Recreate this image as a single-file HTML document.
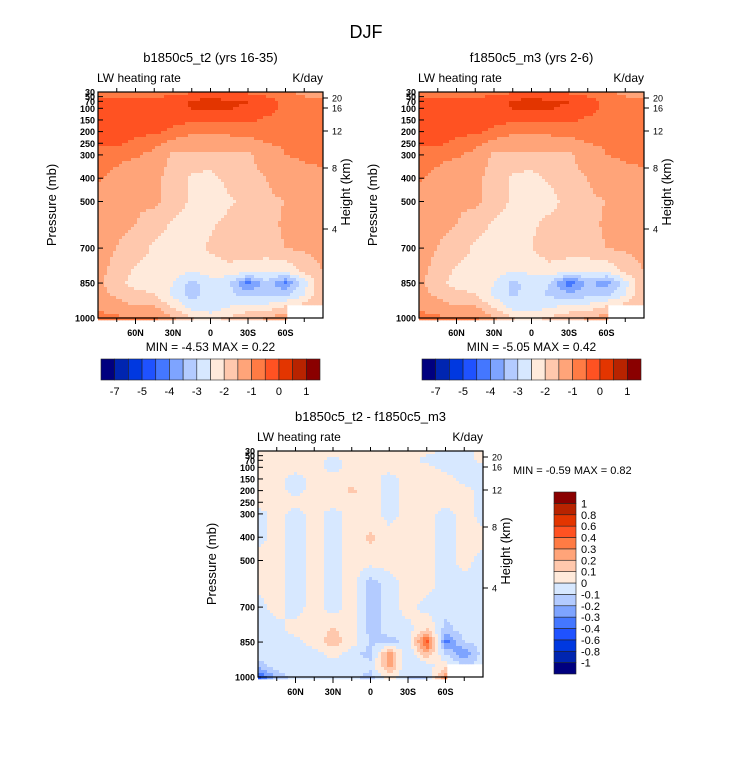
<!DOCTYPE html>
<html><head><meta charset="utf-8"><style>
body{margin:0;background:#fff;}
svg{display:block;font-family:"Liberation Sans",sans-serif;}
</style></head><body>
<svg id="s" width="733" height="772" xmlns="http://www.w3.org/2000/svg">
<text x="366" y="38" font-size="18" text-anchor="middle">DJF</text>
</svg>
<script>
const lats=[90,75,60,45,30,15,0,-15,-30,-45,-60,-75,-90];
const plevs=[30,70,100,150,200,250,300,400,500,600,700,800,850,900,950,1000];
const topLevels=[-7,-6,-5,-4,-3.5,-3,-2.5,-2,-1.5,-1,-0.5,-0.25,0,0.5,1];
const topLabels=[-7,-5,-4,-3,-2,-1,0,1];
const diffLevels=[-1,-0.8,-0.6,-0.4,-0.3,-0.2,-0.1,0,0.1,0.2,0.3,0.4,0.6,0.8,1];
const diffLabels=["-1","-0.8","-0.6","-0.4","-0.3","-0.2","-0.1","0","0.1","0.2","0.3","0.4","0.6","0.8","1"];
const colors=["#00007f","#0025b0","#0038e0","#1f52ff","#4477ff","#7ea4ff","#b3cbff","#d7e8ff","#ffeadb","#ffc8ad","#ffa479","#ff7b44","#ff5222","#e33500","#b82300","#8a0000"];
const fieldA=[
[-0.4,-0.4,-0.4,-0.35,-0.3,-0.3,-0.3,-0.3,-0.3,-0.35,-0.4,-0.6,-0.7],
[-0.2,-0.2,-0.2,-0.2,-0.15,0.05,0.1,0.05,0.02,-0.15,-0.3,-0.4,-0.45],
[-0.15,-0.15,-0.15,-0.15,-0.15,0.02,0.05,0.02,-0.05,-0.15,-0.3,-0.35,-0.4],
[-0.15,-0.15,-0.15,-0.15,-0.2,-0.2,-0.2,-0.2,-0.2,-0.3,-0.35,-0.35,-0.4],
[-0.15,-0.15,-0.2,-0.2,-0.3,-0.4,-0.4,-0.4,-0.4,-0.4,-0.4,-0.4,-0.4],
[-0.2,-0.2,-0.3,-0.4,-0.6,-0.8,-0.8,-0.7,-0.6,-0.5,-0.45,-0.4,-0.4],
[-0.35,-0.4,-0.45,-0.6,-1.1,-1.1,-1.1,-1.1,-1.1,-0.7,-0.5,-0.45,-0.4],
[-0.45,-0.6,-0.8,-0.9,-1.2,-1.6,-1.7,-1.3,-1.2,-1.0,-0.7,-0.6,-0.6],
[-0.7,-0.8,-0.9,-0.9,-1.2,-1.6,-1.9,-1.6,-1.3,-1.1,-1.0,-0.8,-0.8],
[-0.8,-0.9,-1.0,-1.3,-1.6,-1.7,-1.6,-1.3,-1.2,-1.2,-0.9,-0.8,-0.8],
[-0.8,-1.0,-1.2,-1.6,-1.6,-1.7,-1.4,-1.2,-1.2,-1.2,-1.0,-0.9,-0.8],
[-0.8,-1.2,-1.6,-1.7,-1.8,-2.0,-1.8,-1.7,-1.8,-1.9,-1.9,-1.4,-1.0],
[-0.9,-1.3,-1.7,-1.8,-2.0,-2.7,-2.2,-2.4,-3.7,-2.6,-3.6,-2.2,-1.0],
[-0.8,-1.1,-1.3,-1.5,-2.1,-2.7,-2.3,-2.4,-2.7,-2.7,-2.6,-2.0,-1.0],
[-0.6,-0.8,-1.0,-1.0,-1.6,-2.2,-2.4,-2.0,-1.8,-1.8,-1.5,-1.3,-1.0],
[-0.3,-0.4,-0.5,-0.4,-0.9,-1.5,-1.7,-1.4,-1.2,-1.0,-0.6,null,null]];
const fieldB=[
[-0.4,-0.4,-0.4,-0.35,-0.3,-0.3,-0.3,-0.3,-0.3,-0.35,-0.4,-0.6,-0.7],
[-0.2,-0.2,-0.2,-0.2,-0.15,0.05,0.1,0.05,0.02,-0.15,-0.3,-0.4,-0.45],
[-0.15,-0.15,-0.15,-0.15,-0.15,0.02,0.05,0.02,-0.05,-0.15,-0.3,-0.35,-0.4],
[-0.15,-0.15,-0.15,-0.15,-0.2,-0.2,-0.2,-0.2,-0.2,-0.3,-0.35,-0.35,-0.4],
[-0.15,-0.15,-0.2,-0.2,-0.3,-0.4,-0.4,-0.4,-0.4,-0.4,-0.4,-0.4,-0.4],
[-0.2,-0.2,-0.3,-0.4,-0.6,-0.8,-0.8,-0.7,-0.6,-0.5,-0.45,-0.4,-0.4],
[-0.35,-0.4,-0.45,-0.6,-1.1,-1.1,-1.1,-1.1,-1.1,-0.7,-0.5,-0.45,-0.4],
[-0.45,-0.6,-0.8,-0.9,-1.2,-1.6,-1.7,-1.4,-1.2,-1.0,-0.7,-0.6,-0.6],
[-0.7,-0.8,-0.9,-0.9,-1.2,-1.6,-1.9,-1.7,-1.3,-1.1,-1.0,-0.8,-0.8],
[-0.8,-0.9,-1.0,-1.3,-1.6,-1.7,-1.6,-1.3,-1.2,-1.2,-0.9,-0.8,-0.8],
[-0.8,-1.0,-1.2,-1.6,-1.6,-1.7,-1.5,-1.2,-1.2,-1.2,-1.0,-0.9,-0.8],
[-0.8,-1.2,-1.6,-1.7,-1.8,-2.0,-1.9,-1.7,-1.9,-1.9,-1.9,-1.4,-1.0],
[-0.9,-1.3,-1.7,-1.8,-2.0,-2.7,-2.2,-2.5,-3.9,-2.9,-3.3,-2.2,-1.0],
[-0.8,-1.1,-1.3,-1.5,-2.1,-2.6,-2.3,-2.6,-2.8,-2.7,-2.6,-2.0,-1.0],
[-0.6,-0.8,-1.0,-1.0,-1.6,-2.2,-2.3,-2.1,-1.8,-1.8,-1.5,-1.3,-1.0],
[-0.3,-0.4,-0.5,-0.4,-0.9,-1.5,-1.7,-1.4,-1.2,-1.0,-0.7,null,null]];
const fieldD=[
[0.05,0.05,0.05,0.05,0.05,0.05,0.05,0.05,0.05,0.05,-0.05,-0.05,0.05],
[0.05,0.05,0.05,0.05,-0.05,0.05,0.05,0.05,0.05,-0.05,-0.05,-0.05,0.05],
[0.05,0.05,0.05,0.05,-0.05,0.05,0.05,0.05,0.05,0.05,-0.05,-0.05,-0.05],
[0.05,0.05,-0.05,0.05,0.05,0.05,0.05,-0.05,0.05,0.05,0.05,-0.05,-0.05],
[0.05,0.05,-0.05,0.05,0.05,0.12,0.05,-0.05,0.05,0.05,0.05,0.05,-0.05],
[0.05,0.05,0.05,0.05,0.05,0.05,0.05,-0.05,0.05,0.05,0.05,0.05,-0.05],
[-0.05,0.05,-0.05,0.05,-0.05,0.05,0.05,-0.05,0.05,0.05,-0.05,0.05,-0.05],
[-0.05,0.05,-0.05,0.05,-0.05,0.05,0.12,0.05,0.05,0.05,-0.05,0.05,0.05],
[0.05,0.05,-0.05,0.05,-0.05,0.05,0.05,0.05,0.05,0.05,-0.05,0.05,-0.05],
[0.05,0.05,-0.05,0.05,-0.05,0.05,-0.15,-0.05,0.05,0.05,-0.05,-0.05,-0.05],
[-0.05,0.05,-0.05,0.05,-0.05,0.05,-0.15,-0.05,0.05,-0.05,-0.05,-0.05,-0.05],
[-0.05,-0.05,0.05,0.05,0.12,0.05,-0.15,-0.05,-0.05,0.12,-0.15,-0.05,-0.05],
[-0.05,-0.05,-0.05,0.05,0.15,0.05,-0.1,-0.15,-0.05,0.45,-0.35,-0.1,-0.05],
[-0.05,-0.05,-0.05,-0.05,0.05,-0.05,-0.15,0.25,-0.1,0.2,-0.1,-0.3,-0.05],
[-0.15,-0.05,-0.05,-0.05,-0.05,-0.05,-0.05,0.25,-0.1,-0.05,0.05,-0.1,-0.05],
[-0.45,-0.15,-0.05,-0.05,-0.05,-0.05,-0.15,0.05,-0.1,-0.1,0.3,null,null]];
const pTicks=[30,50,70,100,150,200,250,300,400,500,700,850,1000];
const hTicks=[[20,98],[16,108],[12,131],[8,168],[4,229]];
const latTicks=[[60,"60N"],[30,"30N"],[0,"0"],[-30,"30S"],[-60,"60S"]];

const NS="http://www.w3.org/2000/svg";
const svg=document.getElementById('s');
function mk(tag,attrs,parent,text){const e=document.createElementNS(NS,tag);for(const k in attrs)e.setAttribute(k,attrs[k]);if(text!==undefined)e.textContent=text;(parent||svg).appendChild(e);return e;}
function colorFor(v,levels){let i=0;while(i<levels.length&&v>=levels[i])i++;return colors[i];}
function sample(field,lat,p){
  let j=0;while(j<lats.length-2&&lat<lats[j+1])j++;
  let i=0;while(i<plevs.length-2&&p>plevs[i+1])i++;
  const tx=(lats[j]-lat)/(lats[j]-lats[j+1]);const ty=(p-plevs[i])/(plevs[i+1]-plevs[i]);
  const a=field[i][j],b=field[i][j+1],c=field[i+1][j],d=field[i+1][j+1];
  if(a===null||b===null||c===null||d===null)return null;
  return a*(1-tx)*(1-ty)+b*tx*(1-ty)+c*(1-tx)*ty+d*tx*ty;
}
function panel(name,ox,oy,field,levels,title,minmax){
  const W=225,H=226;
  const xs=lat=>ox+(90-lat)/180*W;
  const ys=p=>oy+(p-30)/970*H;
  const g=mk('g',{});
  const cg=mk('g',{},g);
  
  
  const st=3;
  for(let px=0;px<W;px+=st){for(let py=0;py<H;py+=st){
    const lat=90-(px+st/2)/W*180;const p=30+(py+st/2)/H*970;
    const v=sample(field,lat,p);if(v===null)continue;
    const r=mk('rect',{x:ox+px,y:oy+py,width:st+0.3,height:st+0.3,fill:colorFor(v,levels)},cg);
    
    
  }}
  mk('rect',{x:ox,y:oy,width:W,height:H,fill:'none',stroke:'#000','stroke-width':1.2,},g);
  pTicks.forEach(p=>{const y=ys(p);mk('line',{x1:ox,x2:ox+5,y1:y,y2:y,stroke:'#000'},g);
    const t=mk('text',{x:ox-3,y:y+3.5,'font-size':9,'font-weight':'bold','text-anchor':'end'},g,p);
    });
  hTicks.forEach(h=>{const y=oy+(h[1]-92);mk('line',{x1:ox+W,x2:ox+W+5,y1:y,y2:y,stroke:'#000'},g);
    const t=mk('text',{x:ox+W+9,y:y+3.5,'font-size':9},g,h[0]);
    });
  for(let l=75;l>=-75;l-=15){const x=xs(l);mk('line',{x1:x,x2:x,y1:oy+H,y2:oy+H+4,stroke:'#000'},g);mk('line',{x1:x,x2:x,y1:oy,y2:oy-4,stroke:'#000'},g);}
  latTicks.forEach(t=>{const x=xs(t[0]);mk('line',{x1:x,x2:x,y1:oy+H,y2:oy+H+6,stroke:'#000'},g);
    const e=mk('text',{x:x,y:oy+H+18,'font-size':9,'font-weight':'bold','text-anchor':'middle'},g,t[1]);
    });
  const a=mk('text',{x:ox-1,y:oy-10,'font-size':12},g,'LW heating rate');
  const b=mk('text',{x:ox+W,y:oy-10,'font-size':12,'text-anchor':'end'},g,'K/day');
  const c=mk('text',{x:ox+W/2,y:oy-30,'font-size':13,'text-anchor':'middle'},g,title);
  const d=mk('text',{transform:`translate(${ox-42},${oy+H/2}) rotate(-90)`,'font-size':13,'text-anchor':'middle'},g,'Pressure (mb)');
  const e=mk('text',{transform:`translate(${ox+W+27},${oy+100}) rotate(-90)`,'font-size':13,'text-anchor':'middle'},g,'Height (km)');
  if(minmax){const m=mk('text',{x:ox+W/2,y:oy+H+33,'font-size':12,'text-anchor':'middle','xml:space':'preserve'},g,minmax);}
  return g;
}
function hbar(name,x0,y0,labels){
  const g=mk('g',{});
  const bw=219/16;
  colors.forEach((c,i)=>{const r=mk('rect',{x:x0+i*bw,y:y0,width:bw,height:21,fill:c,stroke:'#222','stroke-width':0.6},g);
    });
  labels.forEach((l,k)=>{const t=mk('text',{x:x0+(2*k+1)*bw,y:y0+36,'font-size':11,'text-anchor':'middle'},g,l);
    });
}
function vbar(name,x0,y0,labels){
  const g=mk('g',{});
  const bh=182/16;
  colors.forEach((c,i)=>{const r=mk('rect',{x:x0,y:y0+(15-i)*bh,width:22,height:bh,fill:c,stroke:'#222','stroke-width':0.6},g);
    });
  labels.forEach((l,k)=>{const t=mk('text',{x:x0+27,y:y0+(15-k-1)*bh+bh+4,'font-size':11},g,l);
    });
}
panel('panel-b1850c5',98,92,fieldA,topLevels,'b1850c5_t2 (yrs 16-35)','MIN =  -4.53  MAX =   0.22');
panel('panel-f1850c5',419,92,fieldB,topLevels,'f1850c5_m3 (yrs 2-6)','MIN =  -5.05  MAX =   0.42');
panel('panel-difference',258,451,fieldD,diffLevels,'b1850c5_t2 - f1850c5_m3',null);
hbar('colorbar-left',101,359,topLabels);
hbar('colorbar-right',422,359,topLabels);
vbar('colorbar-difference',554,492,diffLabels);
const mm=mk('text',{x:513,y:474,'font-size':11,'xml:space':'preserve'},svg,'MIN =  -0.59  MAX =   0.82');


</script>
</body></html>
